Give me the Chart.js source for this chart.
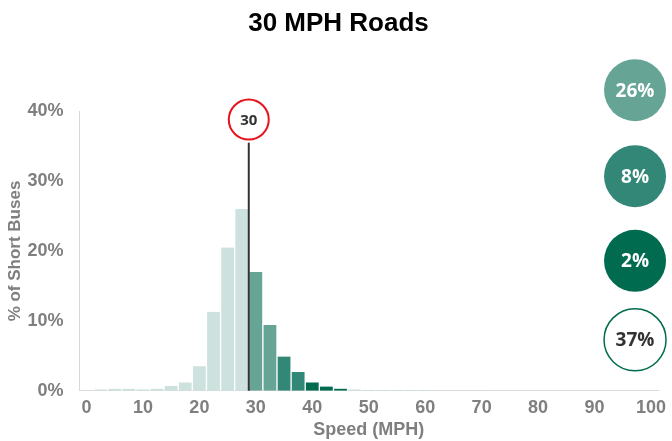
<!DOCTYPE html>
<html>
<head>
<meta charset="utf-8">
<script src="https://cdn.jsdelivr.net/npm/chart.js@4.4.0/dist/chart.umd.min.js"></script>
<style>
  html, body { margin: 0; padding: 0; background: #fff; }
  #wrap { width: 672px; height: 441px; }
</style>
</head>
<body>
<div id="wrap"><canvas id="grafica"></canvas></div>
<script>
// velocidades (centro de cada intervalo de 2.5 mph)
const velocidades = [0, 2.5, 5, 7.5, 10, 12.5, 15, 17.5, 20, 22.5, 25, 27.5, 30, 32.5, 35, 37.5,
  40, 42.5, 45, 47.5, 50, 52.5, 55, 57.5, 60, 62.5, 65, 67.5, 70, 72.5, 75, 77.5, 80, 82.5,
  85, 87.5, 90, 92.5, 95, 97.5, 100];

// % de autobuses cortos en cada intervalo
const porcentajes = [0, 0.2, 0.3, 0.3, 0.2, 0.3, 0.7, 1.2, 3.5, 11.3, 20.5, 26.0, 17.0, 9.4,
  4.9, 2.7, 1.2, 0.6, 0.3, 0.2, 0.1, 0.1, 0.1, 0.1, 0.1, 0.05, 0.05, 0.05, 0.05, 0, 0, 0,
  0, 0, 0, 0, 0, 0, 0, 0, 0];

const etiquetasY = [0, 10, 20, 30, 40];
const limiteVelocidad = 30;
const resumenPorcentajes = [26, 8, 2, 37];

const GRIS = '#7f7f7f';
const FUENTE = "'Liberation Sans', Arial, sans-serif";

function colorBarra(v) {
  if (v < 30) return '#cde2de';
  if (v < 35) return '#66a596';
  if (v < 40) return '#338777';
  if (v < 47.5) return '#006b4f';
  return '#cde2de';
}

const anotaciones = {
  id: 'anotaciones',
  afterDraw(chart) {
    const ctx = chart.ctx;
    const x = chart.scales.x;
    const y = chart.scales.y;
    const area = chart.chartArea;
    const i = velocidades.indexOf(limiteVelocidad);
    const xl = (x.getPixelForValue(i - 1) + x.getPixelForValue(i)) / 2;

    ctx.save();
    // linea del limite
    ctx.strokeStyle = '#333';
    ctx.lineWidth = 2;
    ctx.beginPath();
    ctx.moveTo(xl, y.getPixelForValue(35.5));
    ctx.lineTo(xl, y.getPixelForValue(0));
    ctx.stroke();

    // senal de velocidad
    const cy = y.getPixelForValue(38.8);
    ctx.fillStyle = '#fff';
    ctx.strokeStyle = '#e8141c';
    ctx.lineWidth = 2;
    ctx.beginPath();
    ctx.arc(xl, cy, 20, 0, Math.PI * 2);
    ctx.fill();
    ctx.stroke();
    ctx.fillStyle = '#333';
    ctx.font = "bold 15px 'Open Sans', sans-serif";
    ctx.textAlign = 'center';
    ctx.textBaseline = 'middle';
    ctx.fillText(String(limiteVelocidad), xl, cy + 1);

    // circulos resumen
    const estilos = [
      { fondo: '#66a596', texto: '#fff' },
      { fondo: '#338777', texto: '#fff' },
      { fondo: '#006b4f', texto: '#fff' },
      { fondo: '#fff', texto: '#333', borde: '#006b4f' }
    ];
    const posY = [43, 30.7, 18.6, 7.3];
    const cx = area.right - 23;
    resumenPorcentajes.forEach((p, k) => {
      const yy = y.getPixelForValue(posY[k]);
      ctx.beginPath();
      ctx.arc(cx, yy, 31, 0, Math.PI * 2);
      ctx.fillStyle = estilos[k].fondo;
      ctx.fill();
      if (estilos[k].borde) {
        ctx.strokeStyle = estilos[k].borde;
        ctx.lineWidth = 1.5;
        ctx.stroke();
      }
      ctx.fillStyle = estilos[k].texto;
      ctx.font = "bold 19px 'Open Sans', sans-serif";
      ctx.fillText(p + '%', cx, yy + 1);
    });
    ctx.restore();
  }
};

new Chart(document.getElementById('grafica').getContext('2d'), {
  type: 'bar',
  data: {
    labels: velocidades,
    datasets: [{
      data: porcentajes,
      backgroundColor: velocidades.map(colorBarra),
      borderColor: '#ffffff',
      borderWidth: { left: 1, right: 1, top: 0, bottom: 0 },
      barPercentage: 1,
      categoryPercentage: 1
    }]
  },
  options: {
    responsive: true,
    maintainAspectRatio: false,
    animation: false,
    layout: { padding: { left: 5, right: 0, top: 0, bottom: 0 } },
    plugins: {
      legend: { display: false },
      tooltip: { enabled: false },
      title: {
        display: true,
        text: '30 MPH Roads',
        color: '#000',
        font: { family: FUENTE, size: 26, weight: 'bold' },
        padding: { top: 8, bottom: 72 }
      }
    },
    scales: {
      x: {
        grid: { display: false, drawTicks: false },
        border: { color: '#d9d9d9', width: 1 },
        ticks: {
          autoSkip: false,
          maxRotation: 0,
          color: GRIS,
          padding: 6,
          font: { family: FUENTE, size: 18, weight: 'bold' },
          callback: (val, i) => (velocidades[i] % 10 === 0 ? String(velocidades[i]) : '')
        },
        title: {
          display: true,
          text: 'Speed (MPH)',
          color: GRIS,
          padding: { top: -5, bottom: 0 },
          font: { family: FUENTE, size: 18, weight: 'bold' }
        }
      },
      y: {
        min: 0,
        max: 40,
        grid: { display: false, drawTicks: false },
        border: { color: '#d9d9d9', width: 1 },
        afterBuildTicks: (eje) => { eje.ticks = etiquetasY.map(v => ({ value: v })); },
        ticks: {
          color: GRIS,
          padding: 16,
          font: { family: FUENTE, size: 18, weight: 'bold' },
          callback: (v) => v + '%'
        },
        title: {
          display: true,
          text: '% of Short Buses',
          color: GRIS,
          padding: { top: 0, bottom: -14 },
          font: { family: FUENTE, size: 17, weight: 'bold' }
        }
      }
    }
  },
  plugins: [anotaciones]
});
</script>
</body>
</html>
